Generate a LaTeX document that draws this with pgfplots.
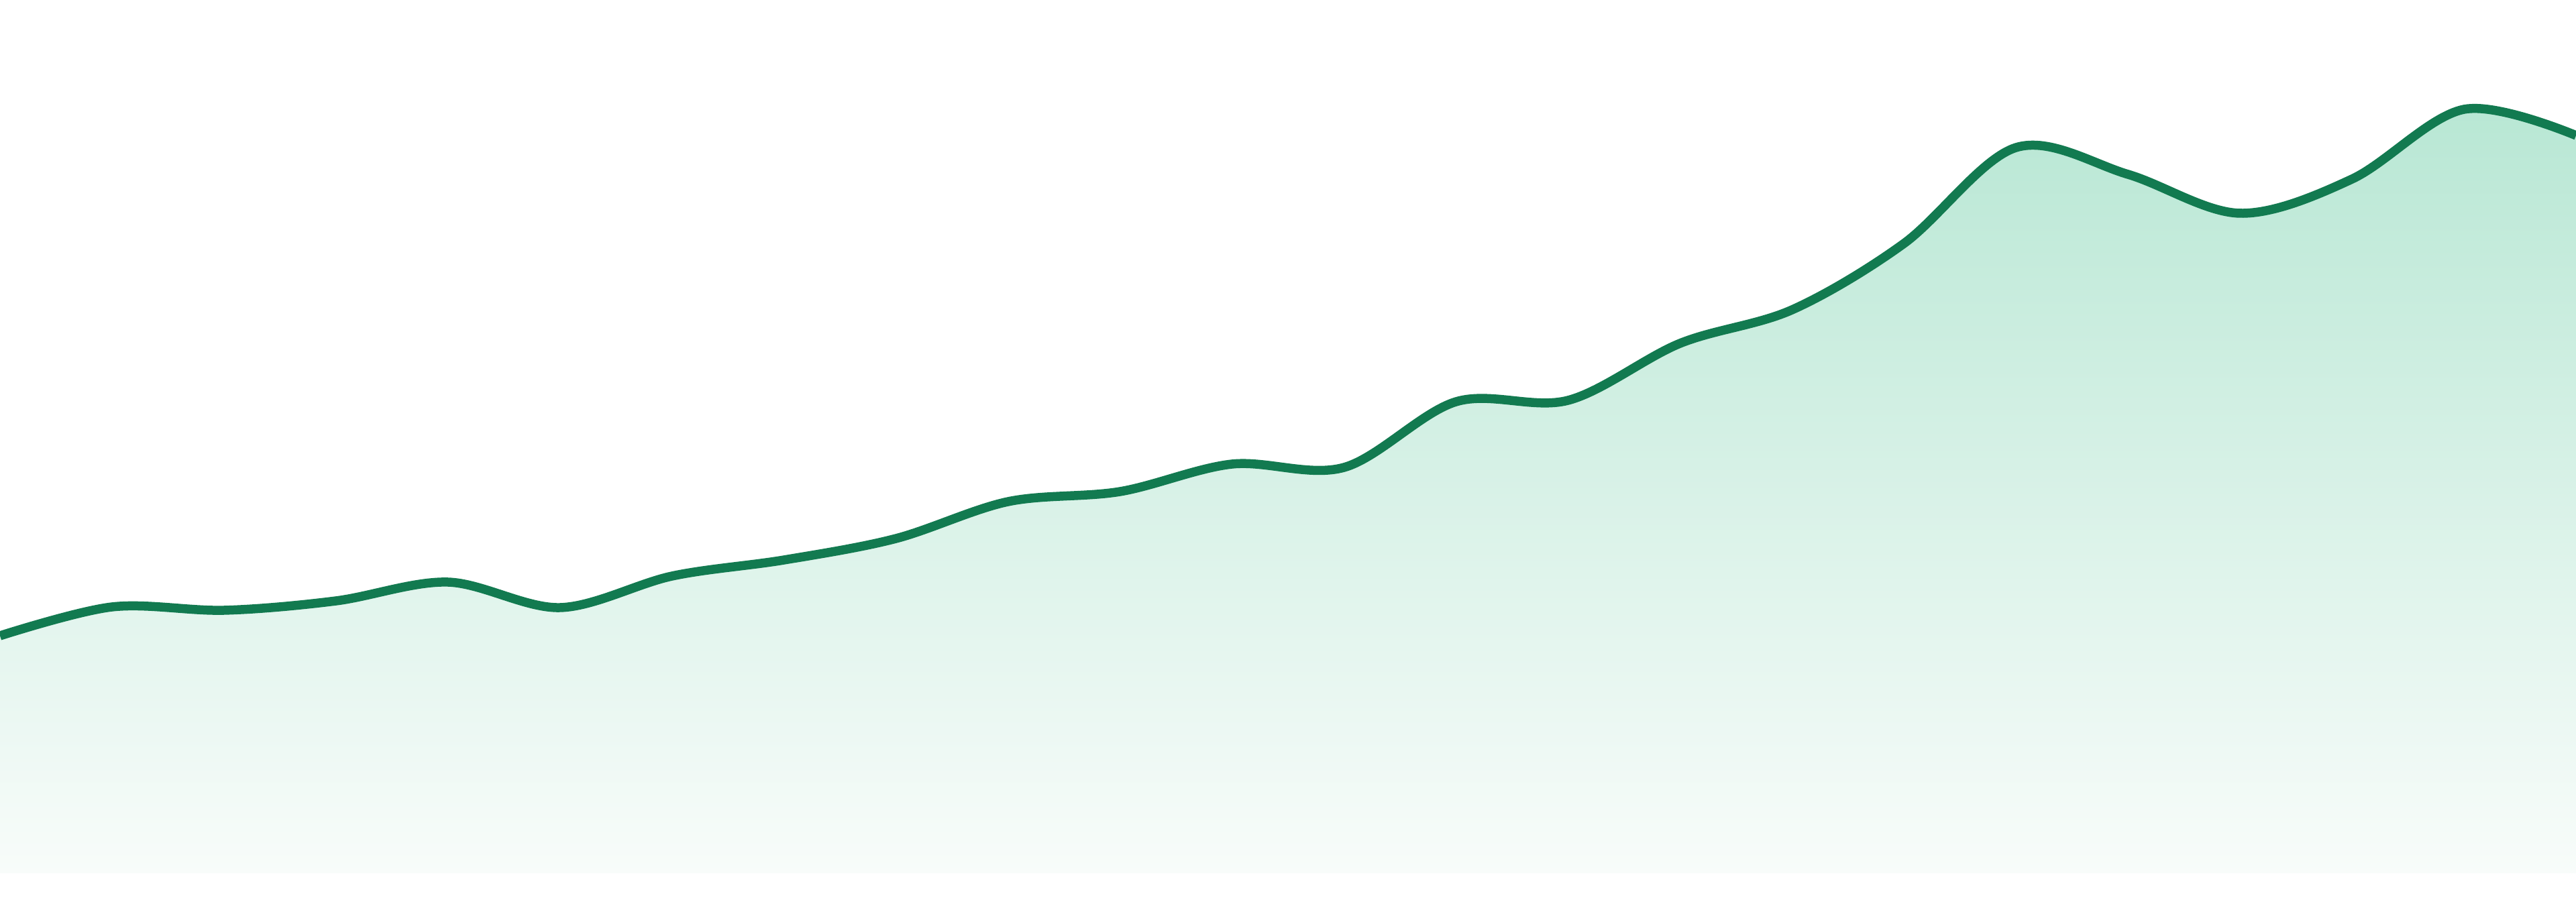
\documentclass[border=0pt]{standalone}
\usepackage{pgfplots}
\pgfplotsset{compat=1.18}

\definecolor{linegreen}{RGB}{18,122,80}
\definecolor{filltop}{RGB}{184,231,212}
\definecolor{fillbottom}{RGB}{248,252,250}

% values are heights above the bottom of the filled area (pixels of the 3840x1344 image)
\pgfplotstableread{
x   y
0   354
1   397
2   392
3   406
4   434
5   396
6   443
7   467
8   499
9   554
10  569
11  610
12  605
13  703
14  705
15  790
16  840
17  939
18  1082
19  1042
20  984
21  1035
22  1139
23  1100
}\series

\begin{document}
\begin{tikzpicture}
  \begin{axis}[
      width=16cm, height=5.6cm,
      scale only axis,
      xmin=0, xmax=23,
      ymin=-42, ymax=1302,
      hide axis,
      clip=true,
    ]
    \path (rel axis cs:0,0) rectangle (rel axis cs:1,1);
    \addplot [draw=none, top color=filltop, bottom color=fillbottom,
              smooth, tension=0.55] table {\series} \closedcycle;
    \addplot [linegreen, line width=1.6pt, smooth, tension=0.55] table {\series};
  \end{axis}
\end{tikzpicture}
\end{document}
